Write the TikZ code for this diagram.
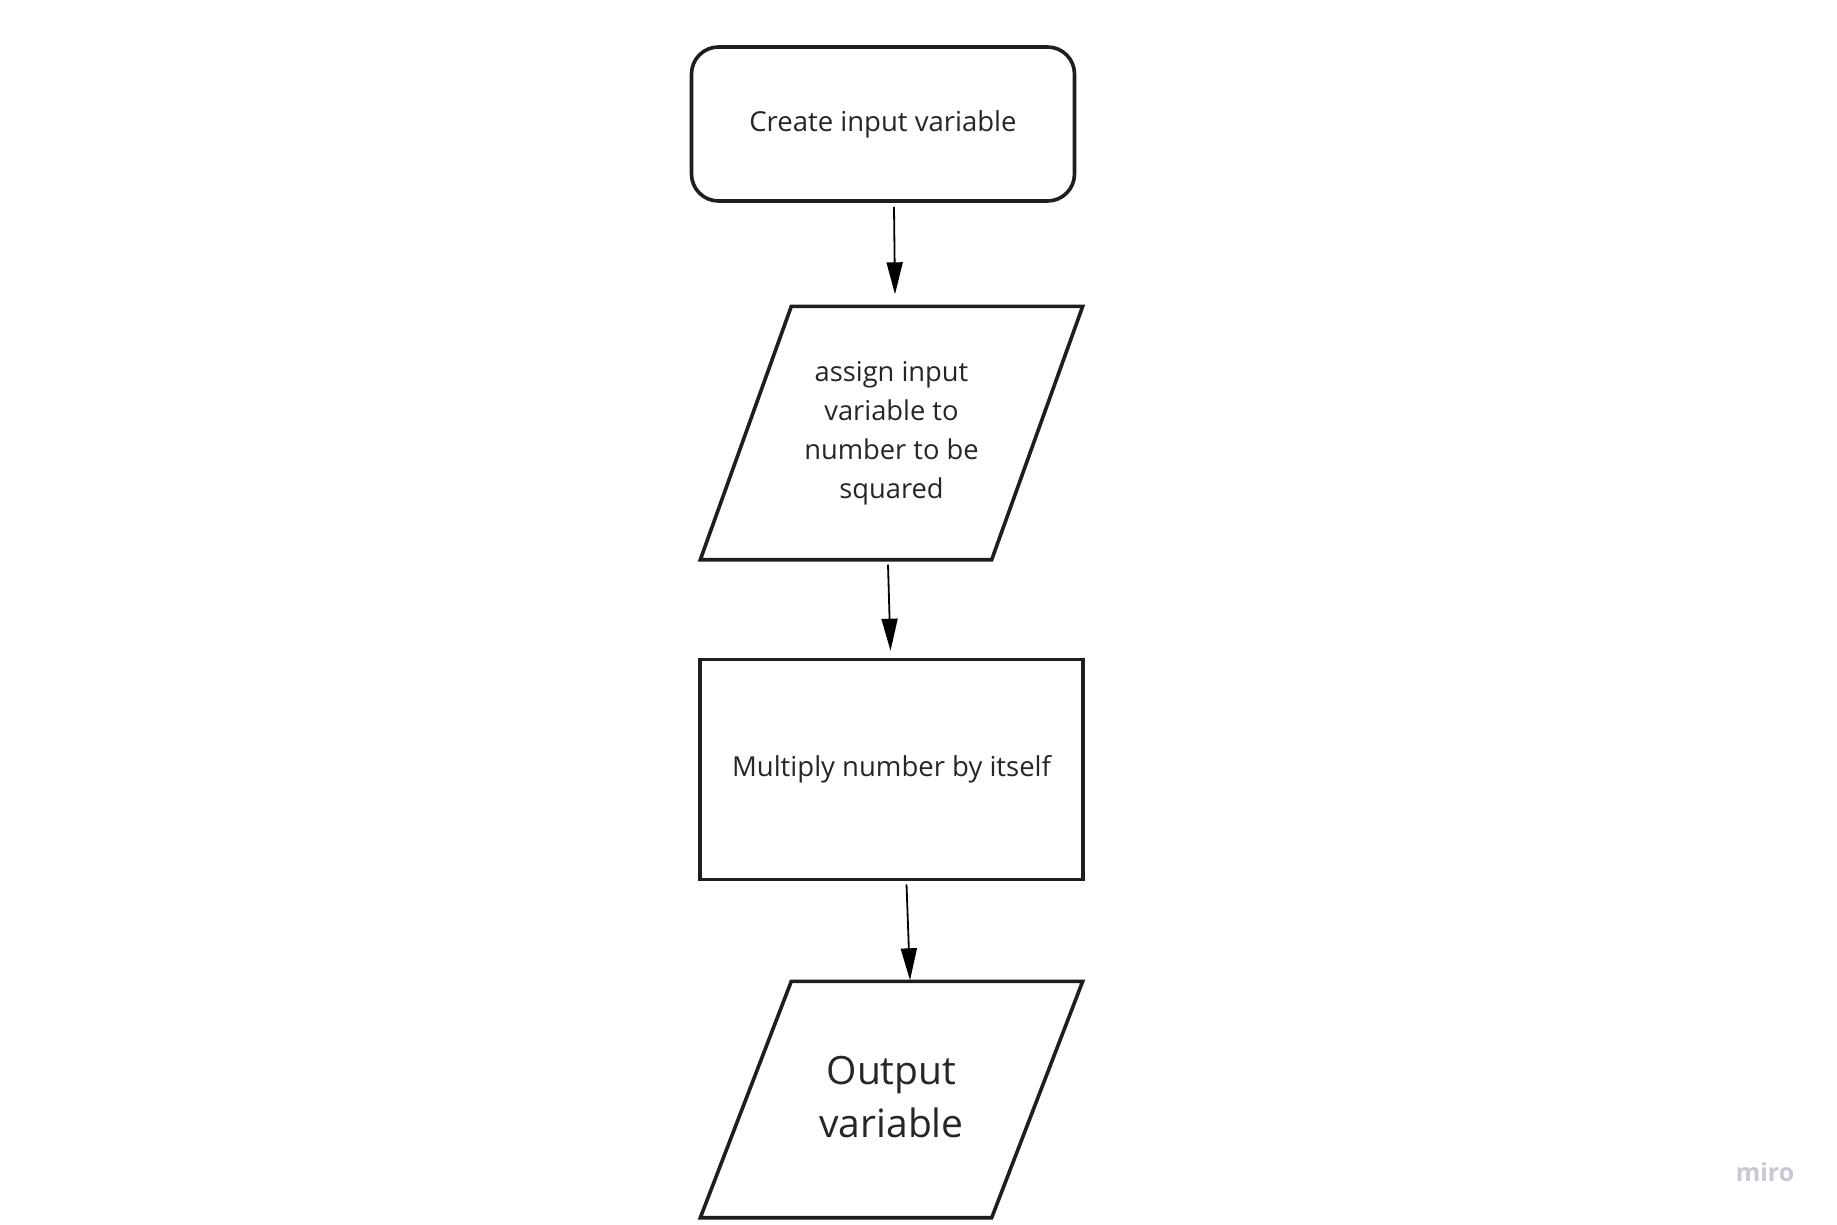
\documentclass[tikz,border=0pt]{standalone}
\usepackage{fontspec}
\setmainfont{Open Sans}
\usetikzlibrary{arrows.meta}
\definecolor{ink}{HTML}{1E1E1E}
\definecolor{txtc}{HTML}{262626}
\definecolor{mirogray}{HTML}{C7C8D3}
\begin{document}
\begin{tikzpicture}[x=1pt,y=-1pt,
  box/.style={draw=none,inner sep=0pt,text=txtc,align=center},
  shapeline/.style={draw=ink,line width=3.6pt,line join=miter},
  arr/.style={draw=black,line width=1.8pt,-{Triangle[length=32pt,width=16pt]}},
  txt/.style={font=\fontsize{27.5}{39}\selectfont}]
\useasboundingbox (0,0) rectangle (1837,1224);
\fill[white] (0,0) rectangle (1837,1224);

% start: rounded rectangle
\node[box,txt,draw=ink,line width=3.6pt,rounded corners=27pt,
      minimum width=383pt,minimum height=154pt] (start) at (883,124) {Create input variable};

% parallelogram 1
\node[box,minimum width=382pt,minimum height=253pt,
      font=\fontsize{27.3}{39}\selectfont] (p1) at (891.5,433)
  {assign input\\variable to\\number to be\\squared};
\draw[shapeline] ([xshift=91pt]p1.north west) -- (p1.north east)
  -- ([xshift=-91pt]p1.south east) -- (p1.south west) -- cycle;

% rectangle
\node[box,txt,draw=ink,line width=3.6pt,
      minimum width=383pt,minimum height=220pt] (mult) at (891.5,769.5) {Multiply number by itself};

% parallelogram 2
\node[box,minimum width=382pt,minimum height=236pt,
      font=\fontsize{39}{53}\selectfont] (p2) at (891.5,1099.5)
  {\raisebox{6pt}{Output}\\\raisebox{6pt}{variable}};
\draw[shapeline] ([xshift=91pt]p2.north west) -- (p2.north east)
  -- ([xshift=-91pt]p2.south east) -- (p2.south west) -- cycle;

% connectors
\draw[arr] ([xshift=11pt,yshift=-4pt]start.south) -- ([xshift=3.5pt,yshift=12pt]p1.north);
\draw[arr] ([xshift=-3.5pt,yshift=-5pt]p1.south) -- ([xshift=-1pt,yshift=7pt]mult.north);
\draw[arr] ([xshift=15pt,yshift=-3pt]mult.south) -- ([xshift=18.5pt,yshift=1pt]p2.north);

% watermark
\node[text=mirogray,font=\fontsize{25}{30}\selectfont\bfseries,inner sep=0pt] (miro) at (1765,1172) {miro};
\end{tikzpicture}
\end{document}
